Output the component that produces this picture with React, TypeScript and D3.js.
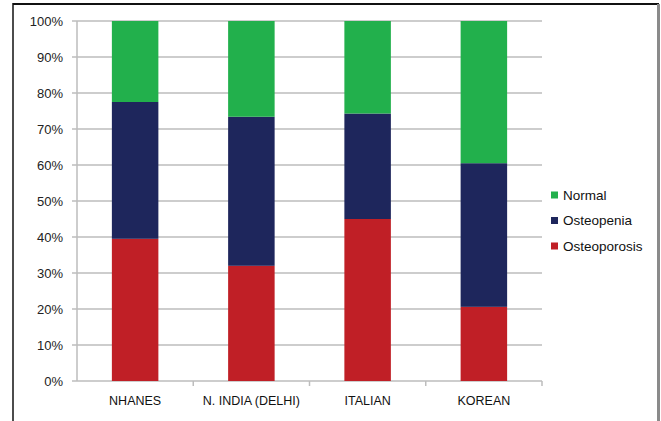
import React from "react";
import * as d3 from "d3";

const categories = ["NHANES", "N. INDIA (DELHI)", "ITALIAN", "KOREAN"];
const osteoporosis = [39.5, 32, 45, 20.6];
const osteopenia = [38, 41.4, 29.3, 39.9];
const normal = [22.5, 26.6, 25.7, 39.5];
const seriesNames = ["Osteoporosis", "Osteopenia", "Normal"];
const seriesColors = ["#c01f26", "#1e265c", "#22b04c"];
const yTicks = [0, 10, 20, 30, 40, 50, 60, 70, 80, 90, 100];

export default function App() {
  const W = 661, H = 421;
  const x0 = 77, x1 = 542, yTop = 21, yBot = 381;
  const x = d3.scaleBand<string>().domain(categories).range([x0, x1]).paddingInner(0.6).paddingOuter(0.3);
  const y = d3.scaleLinear().domain([0, 100]).range([yBot, yTop]);
  const rows = categories.map((c, i) => ({ cat: c, Osteoporosis: osteoporosis[i], Osteopenia: osteopenia[i], Normal: normal[i] }));
  const stack = d3.stack<any>().keys(seriesNames)(rows);
  const font = "'Liberation Sans', Arial, sans-serif";
  const step = x.step();
  const legendOrder = [2, 1, 0];
  const legendY = [195, 220.5, 246];
  return (
    <svg width={W} height={H} style={{ position: "absolute", left: 0, top: 0, background: "#fff" }} fontFamily={font}>
      <rect x={0} y={0} width={W} height={H} fill="#fff" />
      {/* frame */}
      <line x1={13} x2={659} y1={4} y2={4} stroke="#111" strokeWidth={2} />
      <line x1={13} x2={13} y1={3} y2={H} stroke="#111" strokeWidth={1.5} />
      <line x1={658.5} x2={658.5} y1={4} y2={H} stroke="#8a8a8a" strokeWidth={3} />
      {/* gridlines */}
      {yTicks.map((t) => (
        <g key={t}>
          <line x1={x0 - 5} x2={x1} y1={y(t)} y2={y(t)} stroke="#bdbdbd" strokeWidth={1.5} />
          <text x={63} y={y(t)} dy="0.35em" textAnchor="end" fontSize={13} fill="#222">{t}%</text>
        </g>
      ))}
      <line x1={x0} x2={x0} y1={yTop} y2={yBot} stroke="#bdbdbd" strokeWidth={1.5} />
      {categories.map((c, i) => (
        <line key={c} x1={x0 + step * (i + 1)} x2={x0 + step * (i + 1)} y1={yBot} y2={yBot + 5} stroke="#bdbdbd" strokeWidth={1.5} />
      ))}
      {/* bars */}
      {stack.map((s, si) => (
        <g key={s.key} fill={seriesColors[si]}>
          {s.map((d: any) => (
            <rect key={d.data.cat} x={x(d.data.cat)} width={x.bandwidth()} y={y(d[1])} height={y(d[0]) - y(d[1])} />
          ))}
        </g>
      ))}
      {/* category labels */}
      {categories.map((c) => (
        <text key={c} x={(x(c) as number) + x.bandwidth() / 2} y={401} dy="0.35em" textAnchor="middle" fontSize={12.5} fill="#111">{c}</text>
      ))}
      {/* legend */}
      {legendOrder.map((si, k) => (
        <g key={si}>
          <rect x={551} y={legendY[k] - 3.5} width={7} height={7} fill={seriesColors[si]} />
          <text x={563} y={legendY[k]} dy="0.35em" fontSize={13.5} fill="#111">{seriesNames[si]}</text>
        </g>
      ))}
    </svg>
  );
}
